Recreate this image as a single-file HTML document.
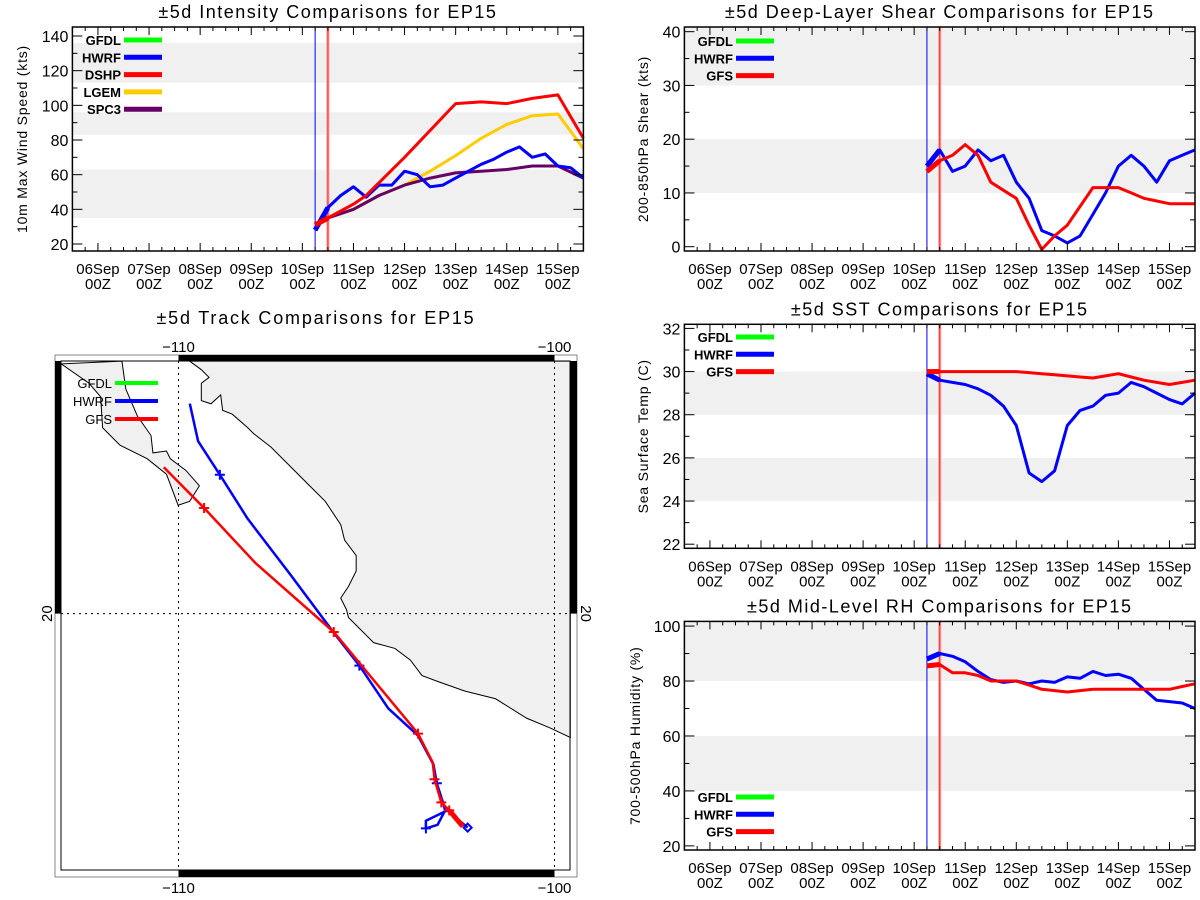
<!DOCTYPE html>
<html><head><meta charset="utf-8"><style>
html,body{margin:0;padding:0;background:#fff;}
svg{display:block;font-family:"Liberation Sans",sans-serif;}
</style></head><body>
<svg id="root" width="1200" height="900" viewBox="0 0 1200 900"></svg>
<script>
// ---- time axis categories (days since 06Sep00Z) ----
const times6 = [4.25,4.5,4.75,5,5.25,5.5,5.75,6,6.25,6.5,6.75,7,7.25,7.5,7.75,8,8.25,8.5,8.75,9,9.25,9.5];
const dayLabels = ["06Sep","07Sep","08Sep","09Sep","10Sep","11Sep","12Sep","13Sep","14Sep","15Sep"];
// ---- intensity ----
const intHwrf = [28,41,48,53,47,54,54,62,60,53,54,58,62,66,69,73,76,70,72,65,64,58];
const dshpTimes = [4.25,4.5,5,5.25,6,7,7.5,8,8.5,9,9.5];
const intDshp = [31,35,43,48,70,101,102,101,104,106,81];
const lgemTimes = [4.25,4.5,5,5.5,6,6.5,7,7.5,8,8.5,9,9.5];
const intLgem = [31,35,40,48,54,62,71,81,89,94,95,75];
const intSpc3 = [31,35,40,48,54,58,61,62,63,65,65,58];
const intTicks = [20,40,60,80,100,120,140];
// ---- shear ----
const shrHwrf = [15,18,14,15,18,16,17,12,9,3,2,0.7,2,6,10,15,17,15,12,16,17,18];
const shrGfs = [14,16,17,19,17,12,10.5,9,4,-0.5,2,4,7.5,11,11,11,10,9,8.5,8,8,8];
const shrTicks = [0,10,20,30,40];
// ---- SST ----
const sstHwrf = [29.9,29.6,29.5,29.4,29.2,28.9,28.4,27.5,25.3,24.9,25.4,27.5,28.2,28.4,28.9,29.0,29.5,29.3,29.0,28.7,28.5,29.0];
const sstGfs = [30,30,30,30,30,30,30,30,29.95,29.9,29.85,29.8,29.75,29.7,29.8,29.9,29.75,29.6,29.5,29.4,29.5,29.6];
const sstTicks = [22,24,26,28,30,32];
// ---- RH ----
const rhHwrf = [88,90,89,87,83.5,80.5,79.5,80,79,80,79.5,81.5,81,83.5,82,82.5,81,77,73,72.5,72,70];
const rhGfs = [85.5,86,83,83,82,80,80,80,78.5,77,76.5,76,76.5,77,77,77,77,77,77,77,78,79];
const rhTicks = [20,40,60,80,100];
// ---- track (lon, lat) ----
const hwrfLon = [-102.31,-102.85,-103.42,-103.42,-103.11,-102.91,-102.96,-103.13,-103.22,-103.63,-104.42,-105.19,-105.87,-107.02,-108.16,-108.90,-109.48,-109.70];
const hwrfLat = [14.65,15.08,14.82,14.63,14.72,15.08,15.26,15.76,16.23,16.95,17.63,18.70,19.52,20.97,22.37,23.47,24.31,25.25];
const gfsLon = [-102.44,-102.80,-103.01,-103.19,-103.24,-103.63,-105.87,-107.95,-109.32,-110.39];
const gfsLat = [14.68,15.08,15.28,15.86,16.28,17.00,19.54,21.26,22.64,23.66];
const hwrfMarks = [3,7,11,15];
const gfsMarks = [1,2,3,5,6,8];

const NS="http://www.w3.org/2000/svg";
const root=document.getElementById('root');
function el(tag,attrs,parent){const e=document.createElementNS(NS,tag);for(const k in attrs)e.setAttribute(k,attrs[k]);(parent||root).appendChild(e);return e;}
function txt(s,attrs,parent){const e=el('text',attrs,parent);e.textContent=s;return e;}

function chart(c){
  const g=el('g',{});
  
  
  const X=t=>c.x0+(t+0.5)/10*(c.x1-c.x0);
  const Y=v=>c.y1-(v-c.vmin)/(c.vmax-c.vmin)*(c.y1-c.y0);
  c.bands.forEach(b=>{
    const r=el('rect',{x:c.x0,y:Math.max(c.y0,Y(b[1])),width:c.x1-c.x0,height:Y(b[0])-Math.max(c.y0,Y(b[1])),fill:'#f0f0f0'},g);
    
    
  });
  const vb=el('line',{x1:X(4.25),x2:X(4.25),y1:c.y0,y2:c.y1,stroke:'#0000ff','stroke-width':1},g);
  
  
  const vr=el('line',{x1:X(4.5),x2:X(4.5),y1:c.y0,y2:c.y1,stroke:'#ff9a9a','stroke-width':3},g);
  
  
  el('line',{x1:X(4.5),x2:X(4.5),y1:c.y0,y2:c.y1,stroke:'#ff3030','stroke-width':1},g);
  c.series.forEach(s=>{
    const pts=s.t.map((t,i)=>X(t).toFixed(1)+','+Y(s.v[i]).toFixed(1)).join(' ');
    const p=el('polyline',{points:pts,fill:'none',stroke:s.color,'stroke-width':3,'stroke-linejoin':'round'},g);
    
    
    el('line',{x1:X(s.t[0]),y1:Y(s.v[0]),x2:X(s.t[1]),y2:Y(s.v[1]),stroke:s.color,'stroke-width':5},g);
  });
  const fr=el('rect',{x:c.x0,y:c.y0,width:c.x1-c.x0,height:c.y1-c.y0,fill:'none',stroke:'#000','stroke-width':1.5},g);
  
  
  for(let t=-0.5;t<=9.5001;t+=0.25){
    const major=Math.abs(t-Math.round(t))<1e-6;
    const L=major?8:4;const x=X(t);
    el('line',{x1:x,x2:x,y1:c.y1,y2:c.y1-L,stroke:'#000'},g);
    el('line',{x1:x,x2:x,y1:c.y0,y2:c.y0+L,stroke:'#000'},g);
  }
  dayLabels.forEach((d,i)=>{
    const t1=txt(d,{x:X(i),y:c.y1+23,'text-anchor':'middle','font-size':15},g);
    
    
    txt('00Z',{x:X(i),y:c.y1+38,'text-anchor':'middle','font-size':15},g);
  });
  const step=c.ticks[1]-c.ticks[0];
  for(let v=c.ticks[0]-step;v<=c.ticks[c.ticks.length-1]+step;v+=step/c.minor){
    const y=Y(v);if(y<c.y0-0.5||y>c.y1+0.5)continue;
    const major=c.ticks.some(k=>Math.abs(k-v)<1e-6);
    const L=major?10:5;
    el('line',{x1:c.x0,x2:c.x0+L,y1:y,y2:y,stroke:'#000'},g);
    el('line',{x1:c.x1,x2:c.x1-L,y1:y,y2:y,stroke:'#000'},g);
  }
  c.ticks.forEach(v=>{
    const t=txt(String(v),{x:c.x0-4,y:Y(v)+6,'text-anchor':'end','font-size':16},g);
    
    
  });
  const ti=txt(c.title,{x:(c.x0+c.x1)/2,y:c.y0-9,'text-anchor':'middle','font-size':18,'letter-spacing':'1.5'},g);
  
  
  const yl=txt(c.ylabel,{x:c.ylx,y:(c.y0+c.y1)/2,'text-anchor':'middle','font-size':14,'letter-spacing':'0.8',transform:`rotate(-90 ${c.ylx} ${(c.y0+c.y1)/2})`},g);
  
  
  c.legend.forEach((l,i)=>{
    const y=c.ly+i*17.3;
    const lt=txt(l[0],{x:c.lx1-3,y:y+5,'text-anchor':'end','font-size':13,'font-weight':'bold'},g);
    
    
    el('line',{x1:c.lx1,x2:c.lx1+38,y1:y,y2:y,stroke:l[1],'stroke-width':5},g);
  });
}

chart({name:'intensity-chart',x0:72.4,x1:583.4,y0:27,y1:251,vmin:15.96,vmax:145.2,ticks:intTicks,minor:2,
  bands:[[35,63],[83,96],[113,136]],title:'±5d Intensity Comparisons for EP15',ylabel:'10m Max Wind Speed (kts)',ylx:27,
  lx1:124,ly:40,legend:[['GFDL','#00ff00'],['HWRF','#0000ff'],['DSHP','#ff0000'],['LGEM','#ffcc00'],['SPC3','#660066']],
  series:[{key:'lgem',t:lgemTimes,v:intLgem,color:'#ffcc00'},{key:'spc3',t:lgemTimes,v:intSpc3,color:'#660066'},
          {key:'hwrf',t:times6,v:intHwrf,color:'#0000ff'},{key:'dshp',t:dshpTimes,v:intDshp,color:'#ff0000'}]});
chart({name:'shear-chart',x0:684.4,x1:1195,y0:27,y1:251,vmin:-0.8,vmax:40.87,ticks:shrTicks,minor:2,
  bands:[[10,20],[30,45]],title:'±5d Deep-Layer Shear Comparisons for EP15',ylabel:'200-850hPa Shear (kts)',ylx:648,
  lx1:736,ly:41,legend:[['GFDL','#00ff00'],['HWRF','#0000ff'],['GFS','#ff0000']],
  series:[{key:'hwrf',t:times6,v:shrHwrf,color:'#0000ff'},{key:'gfs',t:times6,v:shrGfs,color:'#ff0000'}]});
chart({name:'sst-chart',x0:684.4,x1:1195,y0:324.3,y1:548.3,vmin:21.81,vmax:32.19,ticks:sstTicks,minor:2,
  bands:[[24,26],[28,30]],title:'±5d SST Comparisons for EP15',ylabel:'Sea Surface Temp (C)',ylx:648,
  lx1:736,ly:337,legend:[['GFDL','#00ff00'],['HWRF','#0000ff'],['GFS','#ff0000']],
  series:[{key:'hwrf',t:times6,v:sstHwrf,color:'#0000ff'},{key:'gfs',t:times6,v:sstGfs,color:'#ff0000'}]});
chart({name:'rh-chart',x0:684.4,x1:1195,y0:621.4,y1:850,vmin:18.5,vmax:101.7,ticks:rhTicks,minor:2,
  bands:[[40,60],[80,105]],title:'±5d Mid-Level RH Comparisons for EP15',ylabel:'700-500hPa Humidity (%)',ylx:640,
  lx1:736,ly:797,legend:[['GFDL','#00ff00'],['HWRF','#0000ff'],['GFS','#ff0000']],
  series:[{key:'hwrf',t:times6,v:rhHwrf,color:'#0000ff'},{key:'gfs',t:times6,v:rhGfs,color:'#ff0000'}]});

(function(){
  const g=el('g',{});
  
  
  const LX=lon=>178.5+(lon+110)*37.6;
  const LY=lat=>613.6-(lat-20)*40;
  el('rect',{x:55,y:355,width:522,height:522,fill:'#fff',stroke:'#888','stroke-width':1},g);
  el('rect',{x:61,y:361,width:509,height:509,fill:'#fff',stroke:'#000','stroke-width':1},g);
  const land=el('g',{transform:'translate(0,300) scale(0.38715)'},g);
  
  
  el('path',{d:'M490,158 L520,180 L540,200 L520,215 L520,260 L545,268 L570,245 L575,285 L600,295 L640,330 L655,345 L700,380 L760,440 L800,480 L840,520 L880,580 L890,620 L920,660 L920,700 L900,740 L880,770 L895,800 L900,820 L935,855 L965,885 L1020,900 L1060,930 L1090,970 L1130,985 L1200,1010 L1280,1030 L1360,1080 L1420,1105 L1473,1130 L1473,158 Z',fill:'#f0f0f0',stroke:'#000','stroke-width':2.6},land);
  el('path',{d:'M158,165 L230,215 L260,250 L265,330 L310,375 L380,410 L430,450 L460,530 L490,520 L515,480 L480,440 L440,410 L430,390 L395,395 L390,350 L355,300 L325,230 L315,158 Z',fill:'#f0f0f0',stroke:'#000','stroke-width':2.6},land);
  el('rect',{x:61,y:361,width:509,height:509,fill:'none',stroke:'#000','stroke-width':1},g);
  el('line',{x1:LX(-110),x2:LX(-110),y1:361,y2:870,stroke:'#000','stroke-dasharray':'2,4'},g);
  el('line',{x1:LX(-100),x2:LX(-100),y1:361,y2:870,stroke:'#000','stroke-dasharray':'2,4'},g);
  el('line',{x1:61,x2:570,y1:LY(20),y2:LY(20),stroke:'#000','stroke-dasharray':'2,4'},g);
  el('rect',{x:LX(-110),y:355,width:LX(-100)-LX(-110),height:6,fill:'#000'},g);
  el('rect',{x:LX(-110),y:870,width:LX(-100)-LX(-110),height:7,fill:'#000'},g);
  el('rect',{x:55,y:361,width:6,height:LY(20)-361,fill:'#000'},g);
  el('rect',{x:570,y:361,width:7,height:LY(20)-361,fill:'#000'},g);
  [[-110,'−110'],[-100,'−100']].forEach(a=>{
    const t=txt(a[1],{x:LX(a[0]),y:352,'text-anchor':'middle','font-size':15},g);
    
    
    txt(a[1],{x:LX(a[0]),y:893,'text-anchor':'middle','font-size':15},g);
  });
  txt('20',{x:52,y:LY(20),'text-anchor':'middle','font-size':15,transform:`rotate(-90 52 ${LY(20)})`},g);
  txt('20',{x:581,y:LY(20),'text-anchor':'middle','font-size':15,transform:`rotate(90 581 ${LY(20)})`},g);
  const ti=txt('±5d Track Comparisons for EP15',{x:316,y:324,'text-anchor':'middle','font-size':18,'letter-spacing':'1.8'},g);
  
  
  function track(lons,lats,color,marks,key){
    const pts=lons.map((l,i)=>LX(l).toFixed(1)+','+LY(lats[i]).toFixed(1)).join(' ');
    const p=el('polyline',{points:pts,fill:'none',stroke:color,'stroke-width':2.5,'stroke-linejoin':'round'},g);
    
    
    marks.forEach(i=>{const x=LX(lons[i]),y=LY(lats[i]);
      el('path',{d:`M${x-5},${y}H${x+5}M${x},${y-5}V${y+5}`,stroke:color,'stroke-width':2},g);});
  }
  track(hwrfLon,hwrfLat,'#0000ff',hwrfMarks,'hwrf');
  track(gfsLon,gfsLat,'#ff0000',gfsMarks,'gfs');
  const dx=LX(hwrfLon[0]),dy=LY(hwrfLat[0]);
  el('path',{d:`M${dx},${dy-4}L${dx+4},${dy}L${dx},${dy+4}L${dx-4},${dy}Z`,fill:'none',stroke:'#0000ff','stroke-width':2},g);
  el('line',{x1:LX(gfsLon[0]),y1:LY(gfsLat[0]),x2:LX(gfsLon[1]),y2:LY(gfsLat[1]),stroke:'#ff0000','stroke-width':5},g);
  [['GFDL','#00ff00'],['HWRF','#0000ff'],['GFS','#ff0000']].forEach((l,i)=>{
    const y=383+i*18;
    const t=txt(l[0],{x:112,y:y+5,'text-anchor':'end','font-size':13},g);
    
    
    el('line',{x1:115,x2:158,y1:y,y2:y,stroke:l[1],'stroke-width':4},g);
  });
})();
</script>
</body></html>
